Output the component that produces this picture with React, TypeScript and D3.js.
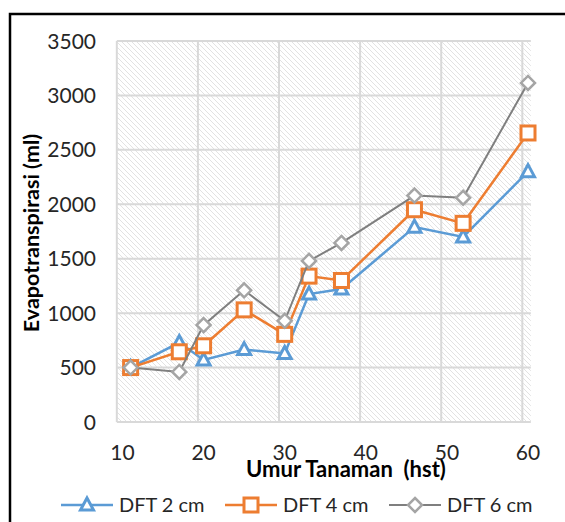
import React from 'react'
import * as d3 from 'd3'

// data
const days = [11, 17, 20, 25, 30, 33, 37, 46, 52, 60]
const dft2 = [500, 730, 570, 665, 630, 1175, 1222, 1790, 1700, 2300]
const dft4 = [500, 645, 700, 1030, 805, 1340, 1300, 1950, 1825, 2655]
const dft6 = [500, 460, 890, 1210, 930, 1480, 1645, 2080, 2060, 3115]
const seriesNames = ['DFT 2 cm', 'DFT 4 cm', 'DFT 6 cm']
const xTickLabels = [10, 20, 30, 40, 50, 60]
const yTickLabels = [0, 500, 1000, 1500, 2000, 2500, 3000, 3500]

const W = 565, H = 522
const font = 'Lato, "Open Sans", sans-serif'

const x = d3.scaleLinear().domain([10, 60]).range([122.5, 528])
const y = d3.scaleLinear().domain([0, 3500]).range([422, 41])
const xMin = 9.3, xMax = 60.35

const colors = ['#5b9bd5', '#ed7d31', '#7f7f7f']
const markerColors = ['#5b9bd5', '#ed7d31', '#a5a5a5']

function marker(kind: number, cx: number, cy: number, key?: string) {
  if (kind === 0) {
    const p = d3.path()
    p.moveTo(cx, cy - 7); p.lineTo(cx + 6.5, cy + 5); p.lineTo(cx - 6.5, cy + 5); p.closePath()
    return <path key={key} d={p.toString()} fill="white" stroke={markerColors[0]} strokeWidth={3} strokeLinejoin="miter" />
  }
  if (kind === 1) {
    return <rect key={key} x={cx - 7} y={cy - 7} width={14} height={14} fill="white" stroke={markerColors[1]} strokeWidth={3} />
  }
  const p = d3.path()
  p.moveTo(cx, cy - 7); p.lineTo(cx + 7, cy); p.lineTo(cx, cy + 7); p.lineTo(cx - 7, cy); p.closePath()
  return <path key={key} d={p.toString()} fill="white" stroke={markerColors[2]} strokeWidth={2.5} />
}

export default function App() {
  const all = [dft2, dft4, dft6]
  const line = d3.line<number>().x((_, i) => x(days[i])).y(d => y(d))
  const gridX = d3.range(xMin, xMax, 10)
  const legendX = [87, 251, 415]
  return (
    <svg width={W} height={H} style={{ position: 'absolute', left: 0, top: 0, background: 'white' }}>
      <defs>
        <pattern id="hatch" patternUnits="userSpaceOnUse" width={5} height={5}>
          <rect width={5} height={5} fill="white" />
          <path d="M-1,-1 L6,6 M-1,4 L1,6 M4,-1 L6,1" stroke="#e2e2e2" strokeWidth={1} />
        </pattern>
      </defs>
      <rect x={10} y={14} width={W} height={H} fill="white" stroke="black" strokeWidth={2.5} />
      <rect x={x(xMin)} y={y(3500)} width={x(xMax) - x(xMin)} height={y(0) - y(3500)} fill="url(#hatch)" />
      {yTickLabels.map(v => (
        <line key={'gy' + v} x1={x(xMin)} x2={x(xMax)} y1={y(v)} y2={y(v)} stroke="#d9d9d9" strokeWidth={2} />
      ))}
      {gridX.map(v => (
        <line key={'gx' + v} x1={x(v)} x2={x(v)} y1={y(3500)} y2={y(0)} stroke="#d9d9d9" strokeWidth={2} />
      ))}
      {yTickLabels.map(v => (
        <text key={'ty' + v} x={96} y={y(v)} dy="0.36em" textAnchor="end" fontFamily={font} fontSize={21} fill="#262626">{v}</text>
      ))}
      {xTickLabels.map(v => (
        <text key={'tx' + v} x={x(v)} y={452} dy="0.36em" textAnchor="middle" fontFamily={font} fontSize={21} fill="#262626">{v}</text>
      ))}
      <text x={346} y={469} dy="0.36em" textAnchor="middle" fontFamily={font} fontWeight="bold" fontSize={22} fill="black" style={{ whiteSpace: 'pre' }}>Umur Tanaman  (hst)</text>
      <text transform="translate(31,233) rotate(-90)" dy="0.36em" textAnchor="middle" fontFamily={font} fontWeight="bold" fontSize={21.5} fill="black">Evapotranspirasi (ml)</text>
      {all.map((s, k) => (
        <g key={'s' + k}>
          <path d={line(s) || ''} fill="none" stroke={colors[k]} strokeWidth={k === 2 ? 2 : 2.5} />
          {s.map((v, i) => marker(k, x(days[i]), y(v), 'm' + k + i))}
        </g>
      ))}
      {seriesNames.map((n, k) => (
        <g key={'l' + k}>
          <line x1={legendX[k] - 26} x2={legendX[k] + 26} y1={505} y2={505} stroke={colors[k]} strokeWidth={k === 2 ? 2 : 2.5} />
          {marker(k, legendX[k], 505)}
          <text x={legendX[k] + 32} y={505} dy="0.36em" fontFamily={font} fontSize={20} fill="#262626">{n}</text>
        </g>
      ))}
    </svg>
  )
}
